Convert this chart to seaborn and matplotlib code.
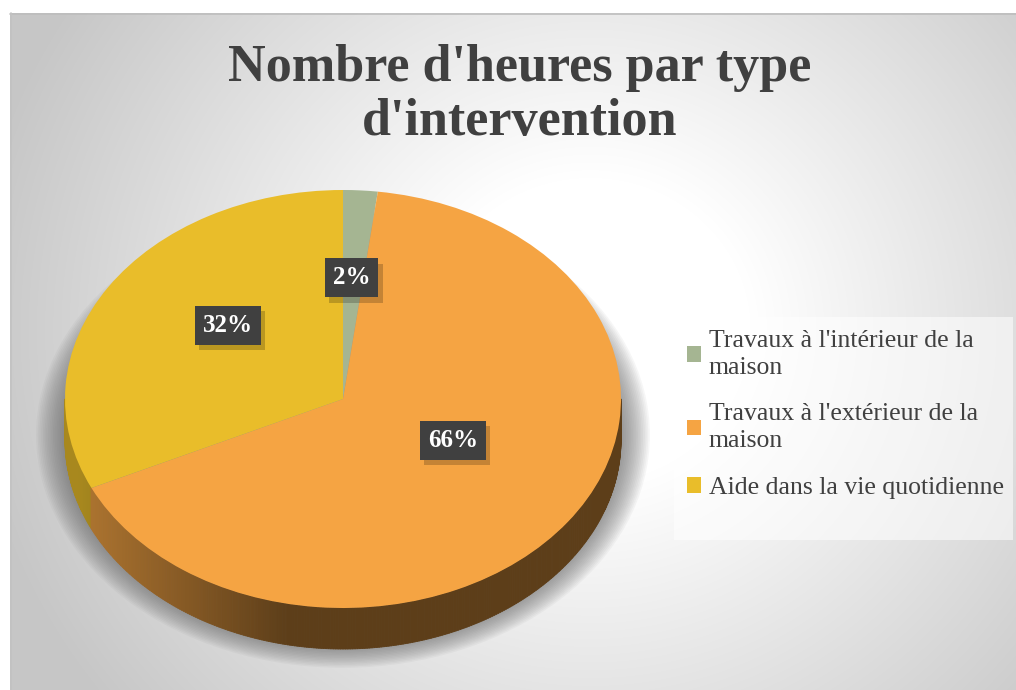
import textwrap
import numpy as np
import matplotlib
matplotlib.use("Agg")
import matplotlib.pyplot as plt
import matplotlib.colors as mcolors
import matplotlib.patheffects as pe
from matplotlib.collections import PolyCollection
from matplotlib.patches import Ellipse, Rectangle
import seaborn as sns

# données
categories = ["Travaux à l'intérieur de la maison",
              "Travaux à l'extérieur de la maison",
              "Aide dans la vie quotidienne"]
shares = [2, 66, 32]
colors = ["#a5b592", "#f5a443", "#e9bd2a"]
title = "Nombre d'heures par type\nd'intervention"

W, H = 1016, 690
sns.set_theme(style="white")
plt.rcParams['font.family'] = ['Liberation Serif', 'DejaVu Serif']

fig = plt.figure(figsize=(W / 100, H / 100), dpi=100)
fig.patch.set_facecolor('white')

# fond: dégradé radial gris
bg = fig.add_axes([0, 0, 1, 1])
bg.set_xlim(0, W)
bg.set_ylim(H, 0)
bg.axis('off')
yy, xx = np.mgrid[13:H, 10:W]
dist = np.hypot(xx - 590, (yy - 330) * 1.05)
t = np.clip((dist - 160) / 460, 0, 1)
shade = 1 - 0.22 * t
bg.imshow(np.dstack([shade] * 3), extent=(10, W, H, 13), aspect='auto',
          interpolation='bilinear')
bg.plot([10, W], [13.5, 13.5], color='#bdbdbd', lw=1.2)
bg.plot([10.5, 10.5], [13, H], color='#c2c2c2', lw=1.2)
# cadre de la légende
bg.add_patch(Rectangle((674, 317), 339, 223, facecolor='white', alpha=0.55,
                       edgecolor='none'))

# camembert en ellipse (effet 3D)
cx, cy, rx, ry = 343, 399, 278, 209
depth = 41 / ry
ax = fig.add_axes([0, 0, 1, 1])
ax.patch.set_alpha(0)

# ombre portée
for i in range(18):
    ax.add_patch(Ellipse((0, -36 / ry), 2 * (rx + 1.7 * i) / rx, 2 * (ry + 1.4 * i) / ry,
                         facecolor='#666666', edgecolor='none', alpha=0.055, zorder=0))

wedges, texts, autotexts = ax.pie(
    shares, colors=colors, startangle=90, counterclock=False,
    autopct='%1.0f%%', pctdistance=0.49,
    wedgeprops=dict(linewidth=0, zorder=3),
    textprops=dict(color='white', fontsize=18, fontweight='bold'))

# tranche latérale
cum = np.concatenate([[0], np.cumsum(shares)]) / np.sum(shares)
ang = np.radians(np.linspace(180, 360, 361))
polys, fcols = [], []
for a0, a1 in zip(ang[:-1], ang[1:]):
    am = 0.5 * (a0 + a1)
    frac = ((np.pi / 2 - am) % (2 * np.pi)) / (2 * np.pi)
    k = min(np.searchsorted(cum, frac, side='right') - 1, len(shares) - 1)
    xm = np.cos(am)
    f = 0.38 + 0.34 * np.clip((-0.2 - xm) / 0.75, 0, 1)
    c = np.array(mcolors.to_rgb(colors[k])) * f
    polys.append([(np.cos(a0), np.sin(a0)), (np.cos(a1), np.sin(a1)),
                  (np.cos(a1), np.sin(a1) - depth), (np.cos(a0), np.sin(a0) - depth)])
    fcols.append(c)
ax.add_collection(PolyCollection(polys, facecolors=fcols, edgecolors=fcols,
                                 linewidths=0.6, zorder=2))

# étiquettes: centre perspectif un peu plus haut que le centre de l'ellipse
for txt in autotexts:
    x, y = txt.get_position()
    txt.set_position((x, y + 19 / ry))
    txt.set_bbox(dict(boxstyle='square,pad=0.32', facecolor='#404040',
                      edgecolor='none', linewidth=0))
    txt.get_bbox_patch().set_path_effects(
        [pe.SimplePatchShadow(offset=(3, -4), shadow_rgbFace='black', alpha=0.2),
         pe.Normal()])
    txt.set_zorder(5)

ax.set_aspect('auto')
ax.set_xlim(-cx / rx, (W - cx) / rx)
ax.set_ylim(-(H - cy) / ry, cy / ry)
ax.axis('off')

# légende
labels = [textwrap.fill(c, 28) for c in categories]
leg = ax.legend(wedges, labels, loc='upper left', mode='expand',
                bbox_to_anchor=(674 / W, 1 - 540 / H, 339 / W, 223 / H),
                bbox_transform=fig.transFigure, frameon=False,
                fontsize=18.5, labelcolor='#404040', handlelength=0.55,
                handleheight=0.55, handletextpad=0.3, labelspacing=0.95,
                borderpad=0.5, borderaxespad=0)
for lt in leg.get_texts():
    lt.set_linespacing(1.3)

fig.text(520 / W, 1 - 44 / H, title, ha='center', va='top', fontsize=37.5,
         fontweight='bold', color='#404040', linespacing=1.15)

fig.savefig('out.png', dpi=100, facecolor='white')
